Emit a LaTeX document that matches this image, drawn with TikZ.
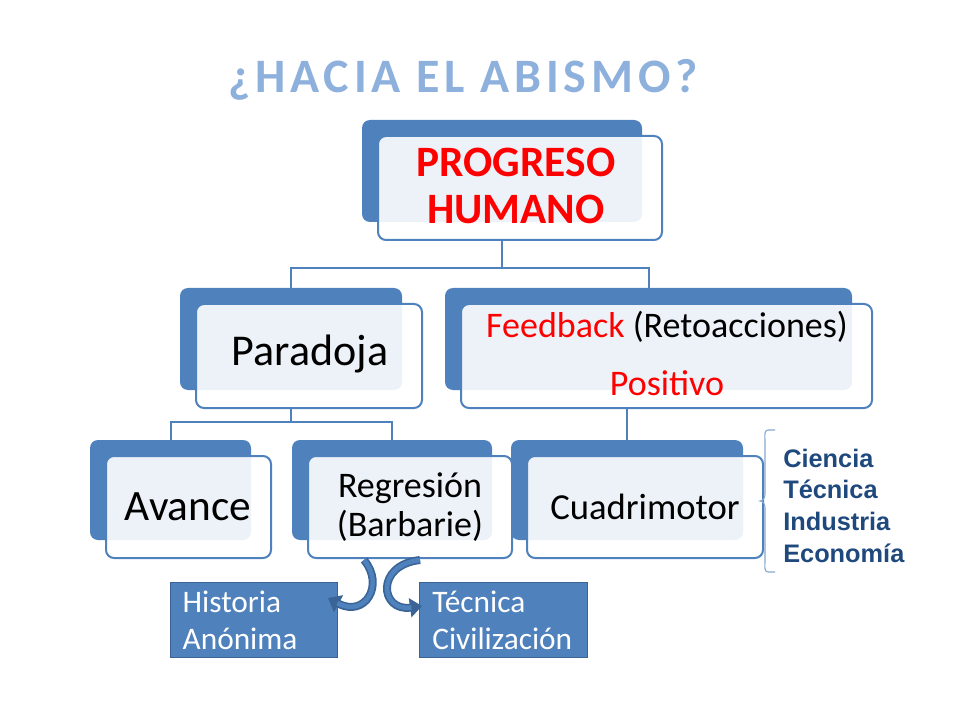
\documentclass[tikz,border=0pt]{standalone}
\usepackage{fontspec}
\setmainfont{Carlito}
\newfontfamily\arialf{Liberation Sans}
\usetikzlibrary{arrows.meta}
\definecolor{bl}{HTML}{4F81BD}
\definecolor{bld}{HTML}{3A6496}
\definecolor{navy}{HTML}{1F497D}
\definecolor{ttl}{HTML}{8DB0DC}
\tikzset{
  back/.style={fill=bl,rounded corners=6pt},
  front/.style={draw=bl,line width=1.5pt,fill=white,fill opacity=0.9,rounded corners=6pt},
  conn/.style={draw=bl,line width=1.5pt},
  leaf/.style={draw=bld,line width=1pt,fill=bl,text=white,font=\fontsize{23.5}{28}\selectfont,align=left,anchor=north west,inner sep=0pt,text width=115pt},
  curv/.style={draw=bld,line width=6pt,-{Triangle[length=9pt,width=14pt]}},
  curvin/.style={draw=bl,line width=3.5pt},
  side/.style={font=\arialf\bfseries\fontsize{19}{22}\selectfont,text=navy,anchor=west,inner sep=0pt}
}
\newcommand{\mybox}[5]{%
  \fill[back] (#1-16,#2-16) rectangle (#3-20,#4-18);
  \draw[front] (#1,#2) rectangle (#3,#4);
  \coordinate (#5-t) at ({(#1+#3)/2-18},#2-16);
  \coordinate (#5-b) at ({(#1+#3)/2-18},#4);
}
\begin{document}
\begin{tikzpicture}[x=0.75pt,y=-0.75pt]
\useasboundingbox (0,0) rectangle (960,720);
\node[font=\bfseries\fontsize{36}{40}\selectfont,text=ttl] (title) at (463,80) {\addfontfeature{LetterSpace=10}¿HACIA EL ABISMO?};
\mybox{378}{136}{662}{240}{pr}
\mybox{196}{304}{422}{408}{pa}
\mybox{461}{304}{872}{408}{fb}
\mybox{106}{456}{271}{558}{av}
\mybox{308}{456}{512}{558}{re}
\mybox{527}{456}{763}{558}{cu}
\node[text=red,font=\bfseries\fontsize{32.5}{35}\selectfont,align=center] (prt) at (516,186) {PROGRESO\\HUMANO};
\node[font=\fontsize{33}{38}\selectfont] (pat) at (310,354) {Paradoja};
\node[font=\fontsize{27}{31}\selectfont] (fbt1) at (667,327) {\textcolor{red}{Feedback} (Retoacciones)};
\node[font=\fontsize{27}{31}\selectfont,text=red] (fbt2) at (667,383) {Positivo};
\node[font=\fontsize{32.5}{38}\selectfont] (avt) at (188,507) {Avance};
\node[font=\fontsize{27}{29}\selectfont,align=center] (ret) at (410,507) {Regresión\\(Barbarie)};
\node[font=\fontsize{27.5}{32}\selectfont] (cut) at (645,507) {Cuadrimotor};
% connectors
\draw[conn] (pr-b) -- ++(0,28) -| (pa-t);
\draw[conn] (pr-b) ++(0,28) -| (fb-t);
\draw[conn] (pa-b) -- ++(0,14) -| (av-t);
\draw[conn] (pa-b) ++(0,14) -| (re-t);
\draw[conn] (cu-t) -- (cu-t |- fb-b);
% leaves
\node[leaf,minimum height=56pt,minimum width=125pt] (hi) at (170,582) {\hspace*{4pt}Historia\\\hspace*{4pt}Anónima};
\node[leaf,minimum height=56pt,minimum width=126pt] (te) at (419,582) {\hspace*{4pt}Técnica\\\hspace*{4pt}Civilización};
% curved arrows
\coordinate (c1s) at (364,560);
\coordinate (c1e) at (328,598);
\coordinate (c2s) at (420,560);
\coordinate (c2e) at (422,606);
\draw[curv] (c1s) .. controls (385,585) and (365,618) .. (c1e);
\draw[curvin,shorten >=8pt] (c1s) .. controls (385,585) and (365,618) .. (c1e);
\draw[curv] (c2s) .. controls (375,565) and (380,612) .. (c2e);
\draw[curvin,shorten >=8pt] (c2s) .. controls (375,565) and (380,612) .. (c2e);
% brace
\draw[draw=bl!70,line width=0.8pt] (775,430) -- (768,430) to[out=180,in=90] (765,440) -- (765,494) to[out=-90,in=0] (760,501) to[out=0,in=90] (765,508) -- (765,562) to[out=-90,in=180] (768,572) -- (775,572);
\node[side] (s1) at (783,458) {Ciencia};
\node[side] (s2) at (783,489) {Técnica};
\node[side] (s3) at (783,521) {Industria};
\node[side] (s4) at (783,553) {Economía};
\end{tikzpicture}
\end{document}
